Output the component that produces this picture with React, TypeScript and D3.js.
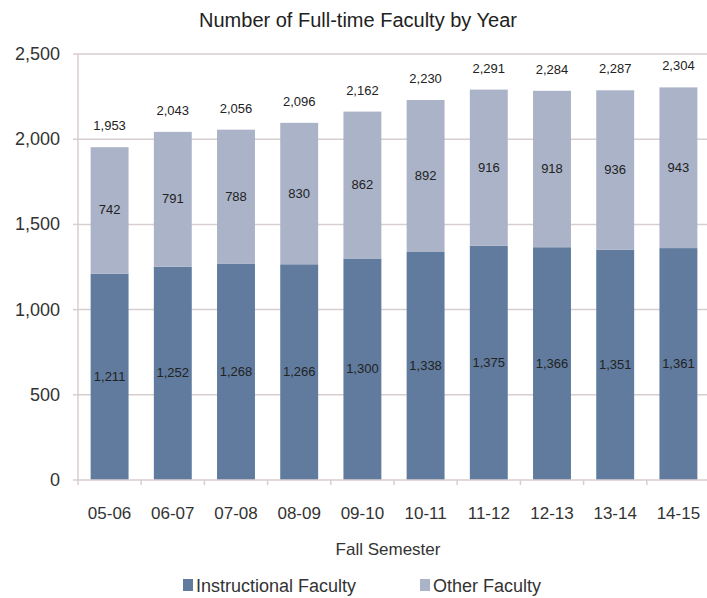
import React from "react";
import * as d3 from "d3";

const categories = ["05-06", "06-07", "07-08", "08-09", "09-10", "10-11", "11-12", "12-13", "13-14", "14-15"];
const instructional = [1211, 1252, 1268, 1266, 1300, 1338, 1375, 1366, 1351, 1361];
const other = [742, 791, 788, 830, 862, 892, 916, 918, 936, 943];
const yTicks = [0, 500, 1000, 1500, 2000, 2500];

const W = 707;
const H = 598;
const left = 78;
const right = 710;
const top = 54;
const bottom = 480;
const FONT = "'Liberation Sans', Arial, sans-serif";
const C_INST = "#607b9d";
const C_OTHER = "#aab3c8";
const GRID = "#d8cece";

export default function App() {
  const x = d3.scaleBand<string>().domain(categories).range([left, right]).paddingInner(0.4).paddingOuter(0.2);
  const y = d3.scaleLinear().domain([0, 2500]).range([bottom, top]);
  const fmt = d3.format(",");
  const bw = x.bandwidth();
  const step = x.step();

  return (
    <svg width={W} height={H} style={{ position: "absolute", left: 0, top: 0, background: "#fff" }} fontFamily={FONT}>
      <text x={358} y={27} textAnchor="middle" fontSize={20} fill="#222">
        Number of Full-time Faculty by Year
      </text>
      {yTicks.map((t) => (
        <g key={t}>
          {t > 0 && <line x1={left} x2={W} y1={y(t)} y2={y(t)} stroke={GRID} strokeWidth={1.5} />}
          <line x1={left - 5} x2={left} y1={y(t)} y2={y(t)} stroke={GRID} strokeWidth={1.5} />
          <text x={60} y={y(t) + 6} textAnchor="end" fontSize={18} fill="#333">
            {fmt(t)}
          </text>
        </g>
      ))}
      <line x1={left} x2={left} y1={top} y2={bottom} stroke={GRID} strokeWidth={1.5} />
      {categories.map((c, i) => {
        const x0 = x(c)!;
        const yi = y(instructional[i]);
        const total = instructional[i] + other[i];
        const yt = y(total);
        const cx = x0 + bw / 2;
        return (
          <g key={c}>
            <rect x={x0} y={yi} width={bw} height={bottom - yi} fill={C_INST} />
            <rect x={x0} y={yt} width={bw} height={yi - yt} fill={C_OTHER} />
            <text x={cx} y={(yi + bottom) / 2 + 4} textAnchor="middle" fontSize={13} fill="#222">
              {fmt(instructional[i])}
            </text>
            <text x={cx} y={(yt + yi) / 2 + 4} textAnchor="middle" fontSize={13} fill="#222">
              {fmt(other[i])}
            </text>
            <text x={cx} y={yt - 17} textAnchor="middle" fontSize={13} fill="#222">
              {fmt(total)}
            </text>
            <text x={cx} y={519} textAnchor="middle" fontSize={17} fill="#333">
              {c}
            </text>
            <line x1={x0 - (step - bw) / 2} x2={x0 - (step - bw) / 2} y1={bottom} y2={bottom + 5} stroke={GRID} strokeWidth={1.5} />
          </g>
        );
      })}
      <line x1={left} x2={W} y1={bottom} y2={bottom} stroke={GRID} strokeWidth={1.5} />
      <text x={388} y={555} textAnchor="middle" fontSize={17} fill="#333">
        Fall Semester
      </text>
      <rect x={183} y={579} width={10} height={12} fill={C_INST} />
      <text x={196} y={592} fontSize={18} fill="#333">Instructional Faculty</text>
      <rect x={420} y={579} width={10} height={12} fill={C_OTHER} />
      <text x={433} y={592} fontSize={18} fill="#333">Other Faculty</text>
    </svg>
  );
}
